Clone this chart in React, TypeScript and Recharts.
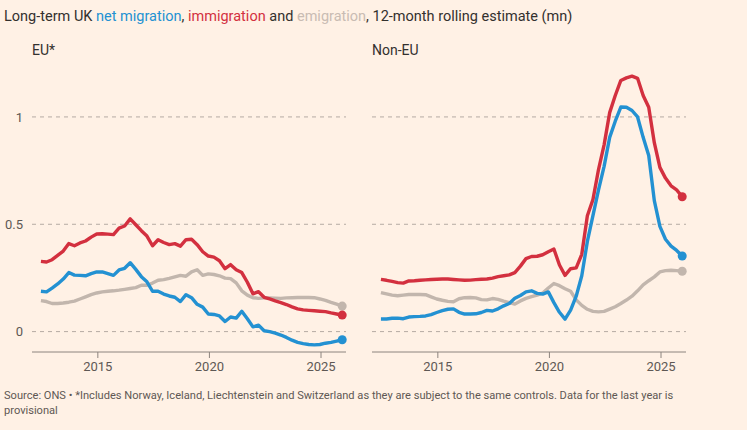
import { Line, LineChart, ReferenceLine, XAxis, YAxis } from 'recharts'

// Quarter-ish sample points of the 12-month rolling estimates (decimal year)
const dates = [
  2012.45, 2012.7, 2012.95,
  2013.2, 2013.45, 2013.7, 2013.95,
  2014.2, 2014.45, 2014.7, 2014.95,
  2015.2, 2015.45, 2015.7, 2015.95,
  2016.2, 2016.45, 2016.7, 2016.95,
  2017.2, 2017.45, 2017.7, 2017.95,
  2018.2, 2018.45, 2018.7, 2018.95,
  2019.2, 2019.45, 2019.7, 2019.95,
  2020.2, 2020.45, 2020.7, 2020.95,
  2021.2, 2021.45, 2021.7, 2021.95,
  2022.2, 2022.45, 2022.7, 2022.95,
  2023.2, 2023.45, 2023.7, 2023.95,
  2024.2, 2024.45, 2024.7, 2024.95,
  2025.2, 2025.45, 2025.7, 2025.95,
]

// EU* (mn)
const euImmigration = [
  0.327, 0.324, 0.335,
  0.355, 0.375, 0.41, 0.4,
  0.413, 0.422, 0.44, 0.455,
  0.456, 0.454, 0.452, 0.482,
  0.492, 0.525, 0.498, 0.47,
  0.445, 0.4, 0.428, 0.415,
  0.405, 0.41, 0.398, 0.428,
  0.43, 0.405, 0.372, 0.352,
  0.347, 0.33, 0.293, 0.312,
  0.288, 0.275, 0.23, 0.176,
  0.186, 0.16, 0.152, 0.143,
  0.135, 0.126, 0.115, 0.106,
  0.101, 0.099, 0.097, 0.095,
  0.093, 0.087, 0.082, 0.077,
]
const euNet = [
  0.188, 0.185, 0.203,
  0.222, 0.245, 0.275, 0.263,
  0.262, 0.26, 0.27, 0.278,
  0.278, 0.27, 0.262, 0.287,
  0.295, 0.321, 0.29, 0.256,
  0.232, 0.188, 0.188, 0.175,
  0.166, 0.16, 0.14, 0.172,
  0.158, 0.127, 0.114, 0.082,
  0.08, 0.073, 0.047, 0.068,
  0.063, 0.095, 0.06, 0.022,
  0.03, 0.004, 0.0, -0.007,
  -0.016, -0.027, -0.04, -0.05,
  -0.056, -0.06, -0.062, -0.06,
  -0.054, -0.05, -0.044, -0.038,
]
const euEmigration = [
  0.144, 0.14, 0.131,
  0.131, 0.133, 0.137, 0.142,
  0.152, 0.162, 0.172, 0.18,
  0.185, 0.188, 0.19, 0.193,
  0.197, 0.201, 0.205, 0.216,
  0.216, 0.226, 0.239, 0.242,
  0.248, 0.255, 0.262, 0.258,
  0.278, 0.288, 0.262, 0.269,
  0.266, 0.26, 0.249, 0.247,
  0.227, 0.19, 0.17, 0.158,
  0.155, 0.157, 0.157, 0.156,
  0.155, 0.157, 0.158, 0.159,
  0.159, 0.159, 0.158, 0.152,
  0.145, 0.136, 0.128, 0.119,
]

// Non-EU (mn)
const nonEuImmigration = [
  0.243, 0.239, 0.234,
  0.228, 0.226, 0.236, 0.237,
  0.239, 0.241, 0.243, 0.244,
  0.245, 0.245, 0.243, 0.241,
  0.239, 0.24, 0.242, 0.244,
  0.245, 0.249, 0.256, 0.26,
  0.264, 0.275, 0.305, 0.34,
  0.35, 0.351, 0.358, 0.372,
  0.385, 0.31, 0.262, 0.293,
  0.297, 0.36, 0.54, 0.615,
  0.755, 0.87, 1.02, 1.1,
  1.17, 1.182, 1.19, 1.18,
  1.1, 1.045, 0.88, 0.765,
  0.715, 0.679, 0.66, 0.628,
]
const nonEuNet = [
  0.059, 0.059, 0.062,
  0.063, 0.06, 0.068, 0.07,
  0.071, 0.073, 0.079, 0.089,
  0.098, 0.104, 0.106, 0.09,
  0.082, 0.082, 0.083, 0.089,
  0.099, 0.096, 0.106, 0.12,
  0.131, 0.155, 0.168, 0.185,
  0.19, 0.178, 0.175, 0.185,
  0.135, 0.09, 0.058, 0.1,
  0.165, 0.26, 0.42, 0.54,
  0.66, 0.77, 0.905, 0.98,
  1.046, 1.045, 1.03, 1.0,
  0.905, 0.82, 0.61, 0.49,
  0.43, 0.398, 0.378, 0.352,
]
const nonEuEmigration = [
  0.182, 0.176, 0.17,
  0.167, 0.17, 0.173, 0.173,
  0.173, 0.172, 0.162, 0.152,
  0.146, 0.141, 0.139, 0.153,
  0.158, 0.159, 0.157, 0.149,
  0.148, 0.154, 0.15, 0.142,
  0.135, 0.128, 0.143, 0.155,
  0.163, 0.17, 0.18, 0.203,
  0.224, 0.214, 0.2, 0.188,
  0.148, 0.122, 0.104, 0.094,
  0.092, 0.094, 0.105, 0.116,
  0.131, 0.147, 0.165, 0.19,
  0.218, 0.237, 0.255, 0.278,
  0.284, 0.286, 0.284, 0.281,
]

const yearTicks = [2015, 2020, 2025]
const valueTicks = [0, 0.5, 1]

const BG = '#FFF1E5'
const BLUE = '#2391D2'
const RED = '#D3303F'
const GREY = '#C2B6AD'
const TEXT = '#33302E'
const MUTED = '#5E5854'
const FONT = 'Roboto, "Noto Sans", sans-serif'

function buildRows(net: number[], imm: number[], emi: number[]) {
  return dates.map((d, i) => ({ date: d, net: net[i], imm: imm[i], emi: emi[i] }))
}

const euRows = buildRows(euNet, euImmigration, euEmigration)
const nonEuRows = buildRows(nonEuNet, nonEuImmigration, nonEuEmigration)

// only the final reading gets a marker
function endDot(color: string) {
  return (props: any) => {
    const { cx, cy, index } = props
    if (index !== dates.length - 1 || cx == null) return <g key={`d${index}`} />
    return <circle key={`d${index}`} cx={cx} cy={cy} r={4.5} fill={color} stroke="none" />
  }
}

function Panel({ rows, showY }: { rows: any[]; showY: boolean }) {
  return (
    <LineChart
      width={showY ? 350 : 330}
      height={320}
      data={rows}
      margin={{ top: 14, right: 4, bottom: 0, left: showY ? 0 : 12 }}
    >
      {/* dashed gridlines only at the labelled values */}
      {valueTicks.map((v) => (
        <ReferenceLine key={v} y={v} stroke="#B5ABA3" strokeDasharray="4 4" />
      ))}
      <XAxis
        dataKey="date"
        type="number"
        domain={[2012.05, 2026.12]}
        ticks={yearTicks}
        height={28}
        axisLine={{ stroke: '#8C847E' }}
        tickLine={{ stroke: '#8C847E' }}
        tickSize={6}
        tickMargin={4}
        tick={{ fill: MUTED, fontSize: 13, fontFamily: FONT }}
      />
      <YAxis
        type="number"
        domain={[-0.095, 1.2]}
        ticks={valueTicks}
        hide={!showY}
        width={32}
        axisLine={false}
        tickLine={false}
        tickSize={0}
        tickMargin={9}
        tick={{ fill: MUTED, fontSize: 13, fontFamily: FONT }}
      />
      <Line
        dataKey="emi"
        stroke={GREY}
        strokeWidth={3.4}
        strokeLinejoin="round"
        dot={endDot(GREY)}
        activeDot={false}
        isAnimationActive={false}
      />
      <Line
        dataKey="imm"
        stroke={RED}
        strokeWidth={3.4}
        strokeLinejoin="round"
        dot={endDot(RED)}
        activeDot={false}
        isAnimationActive={false}
      />
      <Line
        dataKey="net"
        stroke={BLUE}
        strokeWidth={3.4}
        strokeLinejoin="round"
        dot={endDot(BLUE)}
        activeDot={false}
        isAnimationActive={false}
      />
    </LineChart>
  )
}

export default function App() {
  return (
    <div
      style={{
        position: 'fixed',
        left: 0,
        top: 0,
        width: 747,
        height: 430,
        background: BG,
        fontFamily: FONT,
        color: TEXT,
        overflow: 'hidden',
      }}
    >
      <div style={{ position: 'absolute', left: 4, top: 8, fontSize: 14.5, whiteSpace: 'nowrap' }}>
        Long-term UK <span style={{ color: BLUE }}>net migration</span>,{' '}
        <span style={{ color: RED }}>immigration</span> and{' '}
        <span style={{ color: '#C9BCB3' }}>emigration</span>, 12-month rolling estimate (mn)
      </div>
      <div style={{ position: 'absolute', left: 32, top: 42, fontSize: 14 }}>EU*</div>
      <div style={{ position: 'absolute', left: 372, top: 42, fontSize: 14 }}>Non-EU</div>

      <div style={{ position: 'absolute', left: 0, top: 60 }}>
        <Panel rows={euRows} showY />
      </div>
      <div style={{ position: 'absolute', left: 360, top: 60 }}>
        <Panel rows={nonEuRows} showY={false} />
      </div>

      <div
        style={{
          position: 'absolute',
          left: 4,
          top: 388,
          fontSize: 11.1,
          lineHeight: '15px',
          color: MUTED,
          whiteSpace: 'nowrap',
        }}
      >
        Source: ONS • *Includes Norway, Iceland, Liechtenstein and Switzerland as they are subject to the same controls. Data for the last year is
        <br />
        provisional
      </div>
    </div>
  )
}
